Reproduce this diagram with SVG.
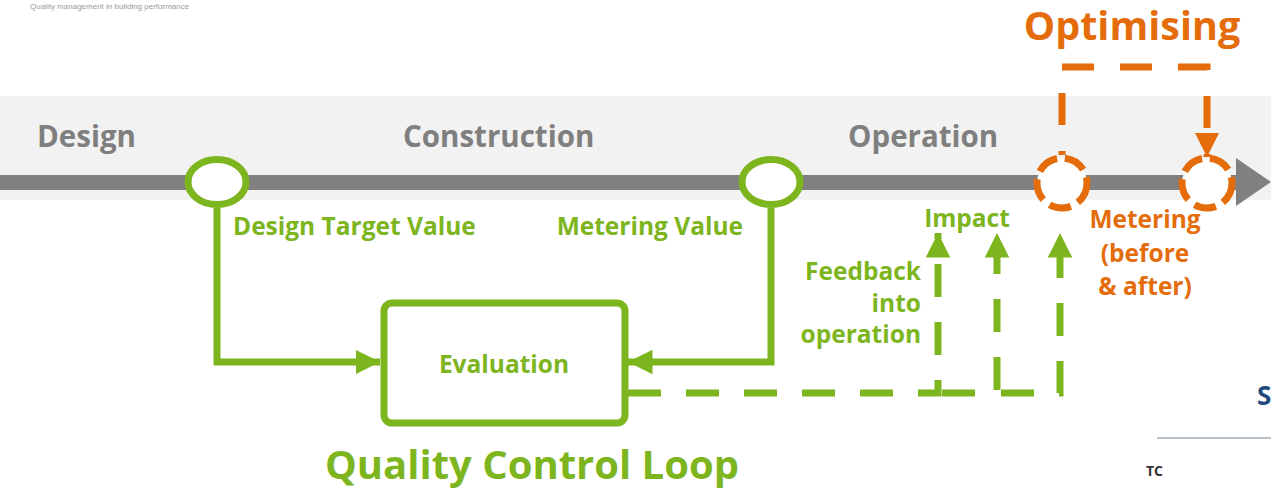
<svg xmlns="http://www.w3.org/2000/svg" width="1271" height="490" viewBox="0 0 1271 490">
<defs>
<style>
.ph{font-family:"Open Sans","Liberation Sans",sans-serif;font-weight:bold;fill:#7f7f7f;font-size:29.5px}
.g{font-family:"Open Sans","Liberation Sans",sans-serif;font-weight:bold;fill:#7DB51E;font-size:24.5px}
.o{font-family:"Open Sans","Liberation Sans",sans-serif;font-weight:bold;fill:#E46C0A;font-size:24.5px}
.gl{fill:none;stroke:#7DB51E;stroke-width:7}
.gd{fill:none;stroke:#7DB51E;stroke-width:7;stroke-dasharray:33 25}
.od{fill:none;stroke:#E46C0A;stroke-width:7;stroke-dasharray:32 26}
</style>
<marker id="ga" viewBox="0 0 10 10" refX="10" refY="5" markerWidth="3.5" markerHeight="3.5" markerUnits="strokeWidth" orient="auto"><path d="M0,0 L10,5 L0,10 Z" fill="#7DB51E"/></marker>
<marker id="oa" viewBox="0 0 10 10" refX="10" refY="5" markerWidth="3.5" markerHeight="3.5" markerUnits="strokeWidth" orient="auto"><path d="M0,0 L10,5 L0,10 Z" fill="#E46C0A"/></marker>
</defs>
<rect width="1271" height="490" fill="#ffffff"/>
<text x="30" y="9" font-family="Liberation Sans, sans-serif" font-size="8" fill="#9a9a9a">Quality management in building performance</text>
<g id="timeline">
<rect x="0" y="96" width="1271" height="104" fill="#f2f2f2"/>
<rect x="0" y="175" width="1240" height="15" fill="#808080"/>
<path d="M1236,158 L1271,182 L1236,206 Z" fill="#808080"/>
<text class="ph" x="37" y="147">Design</text>
<text class="ph" x="403" y="147">Construction</text>
<text class="ph" x="848" y="147">Operation</text>
</g>
<g id="connectors">
<path class="gl" d="M217,208 V362 H380" marker-end="url(#ga)"/>
<path class="gl" d="M771,208 V362 H628" marker-end="url(#ga)"/>
<path class="gd" d="M628,393 H938 V233" marker-end="url(#ga)"/>
<path class="gd" d="M938,393 H997 V233" marker-end="url(#ga)" stroke-dashoffset="-4"/>
<path class="gd" d="M997,393 H1060 V233" marker-end="url(#ga)" stroke-dashoffset="-4"/>
<path class="od" d="M1062,155 V67 H1207 V157" marker-end="url(#oa)" stroke-dashoffset="-30"/>
</g>
<g id="design-target">
<ellipse cx="217" cy="182" rx="29" ry="22.5" fill="#ffffff" stroke="#7DB51E" stroke-width="7"/>
<text class="g" x="233" y="235">Design Target Value</text>
</g>
<g id="metering-value">
<ellipse cx="771" cy="182" rx="29" ry="22.5" fill="#ffffff" stroke="#7DB51E" stroke-width="7"/>
<text class="g" x="743" y="235" text-anchor="end">Metering Value</text>
</g>
<g id="evaluation">
<rect x="384" y="303" width="241" height="120" rx="8" fill="#ffffff" stroke="#7DB51E" stroke-width="7"/>
<text class="g" x="504" y="373" text-anchor="middle">Evaluation</text>
</g>
<text id="qcl" class="g" x="532" y="479" text-anchor="middle" style="font-size:40px">Quality Control Loop</text>
<g id="impact">
<text class="g" x="967" y="227" text-anchor="middle">Impact</text>
</g>
<g id="feedback">
<text class="g" x="921" y="280" text-anchor="end">Feedback</text>
<text class="g" x="921" y="312" text-anchor="end">into</text>
<text class="g" x="921" y="343" text-anchor="end">operation</text>
</g>
<g id="metering-before">
<circle cx="1062" cy="183" r="25" fill="#ffffff" stroke="#E46C0A" stroke-width="7" stroke-dasharray="22 8"/>
</g>
<g id="metering-after">
<circle cx="1207" cy="183" r="25" fill="#ffffff" stroke="#E46C0A" stroke-width="7" stroke-dasharray="22 8"/>
</g>
<g id="metering-label">
<text class="o" x="1145" y="228" text-anchor="middle">Metering</text>
<text class="o" x="1145" y="262" text-anchor="middle">(before</text>
<text class="o" x="1145" y="295" text-anchor="middle">&amp; after)</text>
</g>
<text id="optimising" x="1132" y="40" text-anchor="middle" font-family="Open Sans, Liberation Sans, sans-serif" font-weight="bold" font-size="39.5" fill="#E46C0A">Optimising</text>
<g id="corner">
<text x="1257" y="405" font-family="Open Sans, Liberation Sans, sans-serif" font-weight="bold" font-size="26" fill="#1F497D">S</text>
<line x1="1157" y1="438" x2="1271" y2="438" stroke="#b8c0c8" stroke-width="2"/>
<text x="1146" y="476" font-family="Open Sans, Liberation Sans, sans-serif" font-weight="bold" font-size="14" fill="#333333">TC</text>
</g>
</svg>
